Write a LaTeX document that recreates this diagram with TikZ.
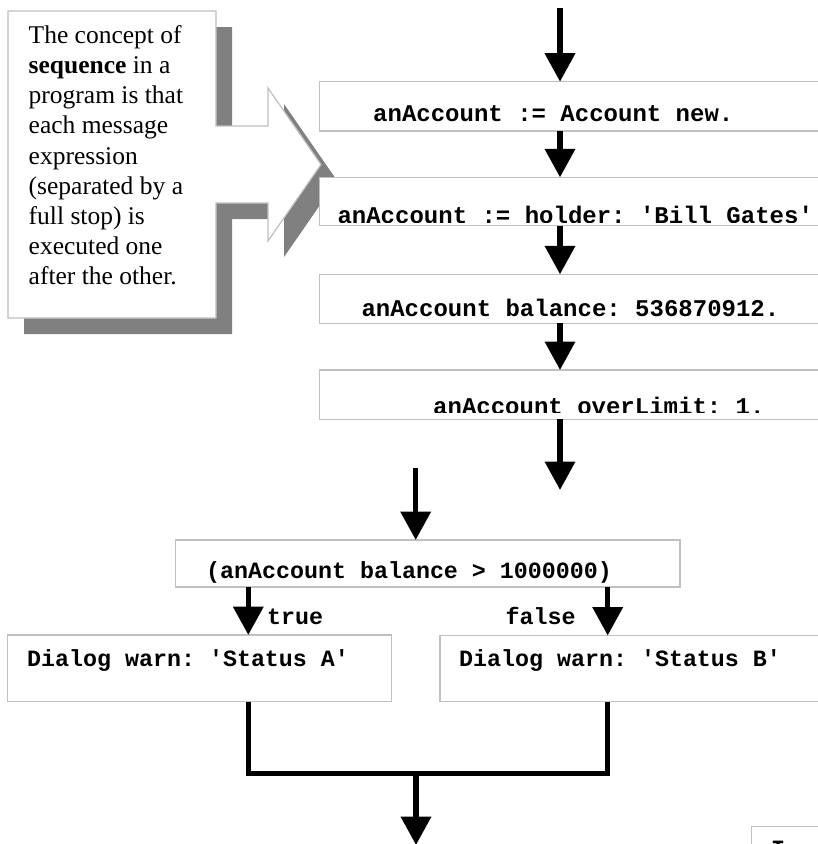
\documentclass[tikz,border=0pt]{standalone}
\usepackage{fontspec}
\setmainfont{Liberation Serif}
\setmonofont{Liberation Mono}
\usetikzlibrary{arrows.meta}

\definecolor{edgegray}{HTML}{C0C0C0}
\definecolor{shadowgray}{HTML}{808080}

% outline of the explanatory call-out (box with a right-pointing arrow)
\newcommand\calloutoutline{(8,11) -- (216,11) -- (216,126) -- (268,126) -- (268,88)
  -- (321,164.5) -- (268,241) -- (268,203) -- (216,203) -- (216,318) -- (8,318) -- cycle}

\begin{document}
\begin{tikzpicture}[x=1bp,y=-1bp,
  box/.style={draw=edgegray, line width=1.5bp, fill=white, rectangle,
    inner sep=0pt, outer sep=0pt, anchor=north west},
  code/.style={font=\ttfamily\bfseries\fontsize{24.1pt}{26pt}\selectfont,
    inner sep=0pt, anchor=base west},
  smallcode/.style={code, font=\ttfamily\bfseries\fontsize{23.4pt}{26pt}\selectfont},
  note/.style={font=\fontsize{25.6pt}{30pt}\selectfont, inner sep=0pt, anchor=base west},
  flow/.style={line width=5.5bp, -{Triangle[length=28.5bp,width=29.5bp]}},
  bar/.style={line width=5.5bp, line join=miter}
]
\useasboundingbox (0,0) rectangle (818,844);
\fill[white] (0,0) rectangle (818,844);

% call-out with its drop shadow
\fill[shadowgray, shift={(16,16)}] \calloutoutline;
\draw[edgegray, line width=1.2bp, fill=white] \calloutoutline;
\foreach \txt [count=\i] in {{The concept of}, {\textbf{sequence} in a},
    {program is that}, {each message}, {expression}, {(separated by a},
    {full stop) is}, {executed one}, {after the other.}}
  \node[note] (note\i) at (28.5, 43.3+30.2*\i-30.2) {\txt};

% statement boxes
\node[box, minimum width=520bp, minimum height=49.3bp] (b1) at (319.3,81.7) {};
\node[box, minimum width=520bp, minimum height=48.4bp] (b2) at (319.3,177.3) {};
\node[box, minimum width=520bp, minimum height=49bp]   (b3) at (319.3,274.3) {};
\node[box, minimum width=520bp, minimum height=49.3bp] (b4) at (319.3,370) {};
\node[box, minimum width=504.3bp, minimum height=47bp] (b5) at (175.7,540) {};
\node[box, minimum width=384.4bp, minimum height=66.7bp] (sa) at (7.3,635) {};
\node[box, minimum width=400bp, minimum height=66.2bp] (sb) at (440,635.5) {};
\node[box, minimum width=100bp, minimum height=60bp] (b9) at (751.7,826.7) {};

% statement texts
\node[code] (t1) at (373,121.7) {anAccount := Account new.};
\begin{scope}
  \clip (320,178) rectangle (830,222.3);
  \node[code] (t2) at (337.3,223.5) {anAccount := holder: 'Bill Gates'};
\end{scope}
\node[code] (t3) at (361.3,316) {anAccount balance: 536870912.};
\begin{scope}
  \clip (320,371) rectangle (830,412);
  \node[code] (t4) at (433,414) {anAccount overLimit: 1.};
\end{scope}
\node[smallcode] (t5) at (206,578) {(anAccount balance > 1000000)};
\node[smallcode] (ta) at (27,666.7) {Dialog warn: 'Status A'};
\node[smallcode] (tb) at (459,666.7) {Dialog warn: 'Status B'};
\node[smallcode] (t9) at (771,856) {I};

% branch labels
\node[smallcode] (ltrue) at (267,624.5) {true};
\node[smallcode] (lfalse) at (505.5,624.5) {false};

% flow arrows
\coordinate (spine) at (560,0);
\coordinate (start) at (560,8.3);
\coordinate (loose) at (560,490);
\coordinate (entry) at (415.7,467.7);
\coordinate (lx) at (248.3,0);
\coordinate (rx) at (607.7,0);
\coordinate (join) at (416,773.3);
\coordinate (exit) at (416,845);

\draw[flow] (start) -- (b1.north -| spine);
\draw[flow] (b1.south -| spine) -- (b2.north -| spine);
\draw[flow] (b2.south -| spine) -- (b3.north -| spine);
\draw[flow] (b3.south -| spine) -- (b4.north -| spine);
\draw[flow] (b4.south -| spine) -- (loose);
\draw[flow] (entry) -- (b5.north -| entry);
\draw[flow] (b5.south -| lx) -- (sa.north -| lx);
\draw[flow] (b5.south -| rx) -- (sb.north -| rx);
\draw[bar] (sa.south -| lx) -- (lx |- join) -- (rx |- join) -- (sb.south -| rx);
\draw[flow] (join) -- (exit);
\end{tikzpicture}
\end{document}
